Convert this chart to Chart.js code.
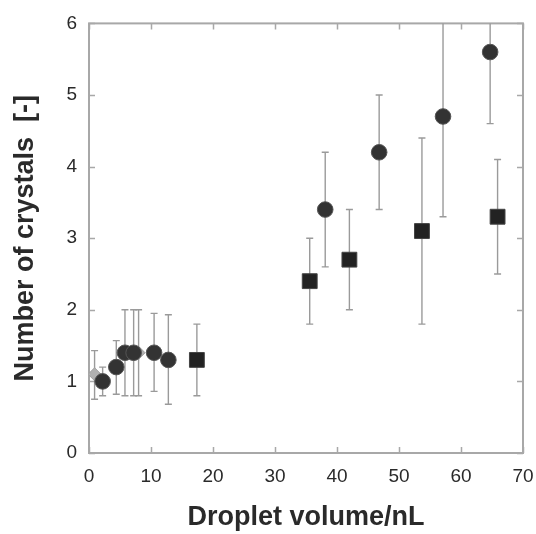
<!DOCTYPE html>
<html>
<head>
<meta charset="utf-8">
<script src="https://cdn.jsdelivr.net/npm/chart.js@4/dist/chart.umd.min.js"></script>
<style>
  html,body{margin:0;padding:0;background:#fff;}
  #wrap{width:536px;height:534px;}
</style>
</head>
<body>
<div id="wrap"><canvas id="crystalChart" width="536" height="534"></canvas></div>
<script>
// data
const circleX  = [2.2, 4.4, 5.8, 7.2, 10.5, 12.8, 38.1, 46.8, 57.1, 64.7];
const circleY  = [1.0, 1.2, 1.4, 1.4, 1.4, 1.3, 3.4, 4.2, 4.7, 5.6];
const circleLo = [0.8, 0.82, 0.8, 0.8, 0.86, 0.68, 2.6, 3.4, 3.3, 4.6];
const circleHi = [1.2, 1.57, 2.0, 2.0, 1.95, 1.93, 4.2, 5.0, 6.1, 6.6];

const squareX  = [17.4, 35.6, 42.0, 53.7, 65.9];
const squareY  = [1.3, 2.4, 2.7, 3.1, 3.3];
const squareLo = [0.8, 1.8, 2.0, 1.8, 2.5];
const squareHi = [1.8, 3.0, 3.4, 4.4, 4.1];

const diamondX  = [0.9, 8.0];
const diamondY  = [1.1, 1.4];
const diamondLo = [0.75, 0.8];
const diamondHi = [1.43, 2.0];

const xTicks = [0, 10, 20, 30, 40, 50, 60, 70];
const yTicks = [0, 1, 2, 3, 4, 5, 6];

function pts(xs, ys, lo, hi){
    return xs.map((x,i)=>({x:x, y:ys[i], lo:lo[i], hi:hi[i]}));
}

const frameColor = '#a8a8a8';

// error bars + box frame with inward ticks
const boxPlugin = {
    id:'boxPlugin',
    beforeDatasetsDraw(chart){
        const ctx = chart.ctx;
        const a = chart.chartArea;
        const xs = chart.scales.x, ys = chart.scales.y;

        ctx.save();
        ctx.strokeStyle = frameColor;
        ctx.lineWidth = 2;
        ctx.strokeRect(a.left, a.top, a.right-a.left, a.bottom-a.top);
        ctx.lineWidth = 1.5;
        ctx.beginPath();
        xTicks.forEach(v=>{
            const px = Math.round(xs.getPixelForValue(v))+0.5;
            ctx.moveTo(px, a.bottom); ctx.lineTo(px, a.bottom-6);
            ctx.moveTo(px, a.top); ctx.lineTo(px, a.top+6);
        });
        yTicks.forEach(v=>{
            const py = Math.round(ys.getPixelForValue(v))+0.5;
            ctx.moveTo(a.left, py); ctx.lineTo(a.left+6, py);
            ctx.moveTo(a.right, py); ctx.lineTo(a.right-6, py);
        });
        ctx.stroke();

        // error bars
        ctx.beginPath();
        ctx.rect(a.left, a.top, a.right-a.left, a.bottom-a.top);
        ctx.clip();
        ctx.strokeStyle = '#9a9a9a';
        ctx.lineWidth = 1.4;
        chart.data.datasets.forEach(ds=>{
            ds.data.forEach(p=>{
                const px = xs.getPixelForValue(p.x);
                const pl = ys.getPixelForValue(p.lo);
                const ph = ys.getPixelForValue(p.hi);
                ctx.beginPath();
                ctx.moveTo(px, pl); ctx.lineTo(px, ph);
                ctx.moveTo(px-3.5, pl); ctx.lineTo(px+3.5, pl);
                ctx.moveTo(px-3.5, ph); ctx.lineTo(px+3.5, ph);
                ctx.stroke();
            });
        });
        ctx.restore();
    }
};

const ctx = document.getElementById('crystalChart').getContext('2d');
const myChart = new Chart(ctx, {
    type:'scatter',
    data:{
        datasets:[
            {
                label:'circles',
                data:pts(circleX, circleY, circleLo, circleHi),
                pointStyle:'circle',
                pointRadius:7.8,
                pointHoverRadius:7.8,
                backgroundColor:'#333333',
                borderColor:'#555555',
                borderWidth:1,
                order:1
            },
            {
                label:'diamonds',
                data:pts(diamondX, diamondY, diamondLo, diamondHi),
                pointStyle:'rectRot',
                pointRadius:6.5,
                pointHoverRadius:6.5,
                backgroundColor:'#b0b0b0',
                borderColor:'#a0a0a0',
                borderWidth:1,
                order:2
            },
            {
                label:'squares',
                data:pts(squareX, squareY, squareLo, squareHi),
                pointStyle:'rect',
                pointRadius:10.5,
                pointHoverRadius:10.5,
                backgroundColor:'#222222',
                borderColor:'#444444',
                borderWidth:1,
                order:0
            }
        ]
    },
    options:{
        responsive:false,
        animation:false,
        events:[],
        layout:{padding:{left:0, top:21, right:13, bottom:0}},
        plugins:{legend:{display:false}, tooltip:{enabled:false}},
        scales:{
            x:{
                type:'linear',
                min:0, max:70,
                afterFit(scale){
                    scale.height = 81;
                    scale.paddingLeft = 0;
                    scale.paddingRight = 0;
                },
                afterBuildTicks(scale){ scale.ticks = xTicks.map(v=>({value:v})); },
                grid:{display:false, drawTicks:false},
                border:{display:false},
                ticks:{
                    padding:12,
                    color:'#2a2a2a',
                    font:{family:'"Liberation Sans", Arial, sans-serif', size:19}
                },
                title:{
                    display:true,
                    text:'Droplet volume/nL',
                    color:'#2a2a2a',
                    padding:{top:0, bottom:0},
                    font:{family:'"Liberation Sans", Arial, sans-serif', size:27, weight:'bold'}
                }
            },
            y:{
                type:'linear',
                min:0, max:6,
                afterFit(scale){ scale.width = 89; },
                afterBuildTicks(scale){ scale.ticks = yTicks.map(v=>({value:v})); },
                grid:{display:false, drawTicks:false},
                border:{display:false},
                ticks:{
                    padding:12,
                    color:'#2a2a2a',
                    font:{family:'"Liberation Sans", Arial, sans-serif', size:19}
                },
                title:{
                    display:true,
                    text:'Number of crystals  [-]',
                    color:'#2a2a2a',
                    padding:{top:9, bottom:0},
                    font:{family:'"Liberation Sans", Arial, sans-serif', size:27, weight:'bold'}
                }
            }
        }
    },
    plugins:[boxPlugin]
});
</script>
</body>
</html>
